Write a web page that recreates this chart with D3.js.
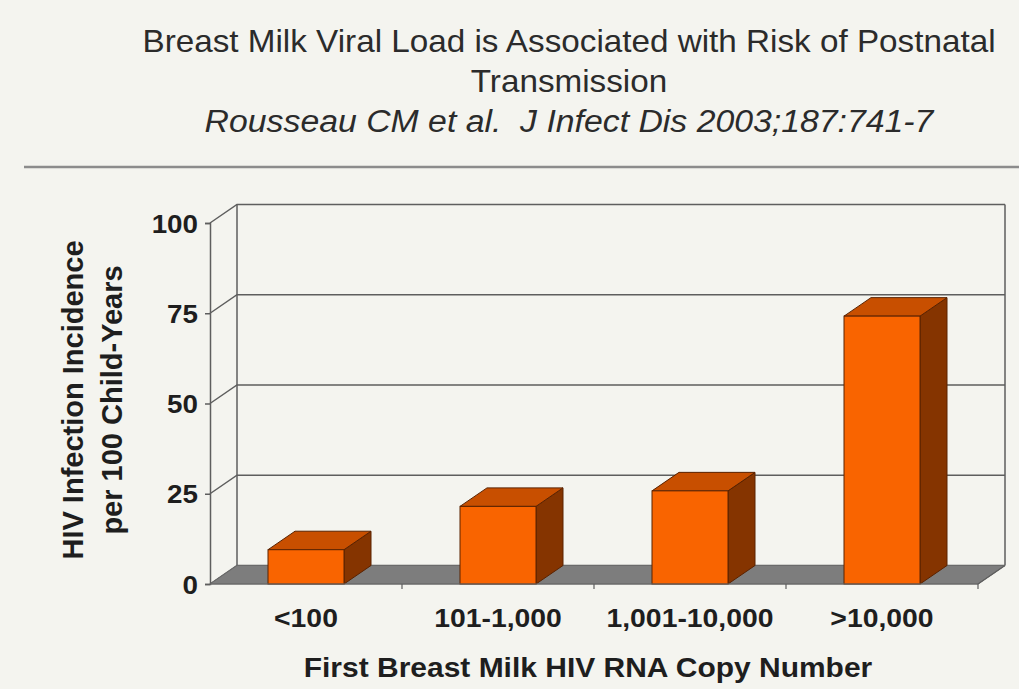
<!DOCTYPE html>
<html>
<head>
<meta charset="utf-8">
<script src="https://cdn.jsdelivr.net/npm/d3@7"></script>
<style>
  html, body { margin: 0; padding: 0; background: #F4F4EF; }
  svg { display: block; }
  text { font-family: "Liberation Sans", Arial, sans-serif; }
</style>
</head>
<body>
<svg id="chart" width="1019" height="689"></svg>
<script>
// ---- data ----
const titleLines = ["Breast Milk Viral Load is Associated with Risk of Postnatal", "Transmission"];
const citation = "Rousseau CM et al.  J Infect Dis 2003;187:741-7";
const categories = ["<100", "101-1,000", "1,001-10,000", ">10,000"];
const values = [9.5, 21.5, 25.8, 74.2];
const yTicks = [0, 25, 50, 75, 100];
const yTitle = ["HIV Infection Incidence", "per 100 Child-Years"];
const xTitle = "First Breast Milk HIV RNA Copy Number";

// ---- layout ----
const svg = d3.select("#chart");
const W = 1019, H = 689;
const stretch = 1.09;
const pLeft = 210, pRight = 978, pBottom = 584, pTop = 223;
const dx = 27, dy = -18.5;

const x = d3.scaleBand().domain(categories).range([pLeft, pRight]).paddingInner(0).paddingOuter(0);
const y = d3.scaleLinear().domain([0, 100]).range([pBottom, pTop]);
const barW = 76;

function stretchText(sel, k) {
  sel.each(function() {
    const w = this.getComputedTextLength();
    d3.select(this).attr("textLength", w * k).attr("lengthAdjust", "spacingAndGlyphs");
  });
}

// ---- title ----
const tcx = 569;
svg.append("text").attr("x", tcx).attr("y", 52).attr("text-anchor", "middle")
  .attr("font-size", 30.5).attr("fill", "#2b2b2b").text(titleLines[0]).call(stretchText, stretch);
svg.append("text").attr("x", tcx).attr("y", 92).attr("text-anchor", "middle")
  .attr("font-size", 30.5).attr("fill", "#2b2b2b").text(titleLines[1]).call(stretchText, stretch);
svg.append("text").attr("x", tcx).attr("y", 132).attr("text-anchor", "middle")
  .attr("font-size", 31).attr("font-style", "italic").attr("fill", "#2b2b2b")
  .style("white-space", "pre")
  .text(citation).call(stretchText, stretch);

// rule
svg.append("line").attr("x1", 24).attr("x2", W).attr("y1", 167).attr("y2", 167)
  .attr("stroke", "#8c8c8c").attr("stroke-width", 2.5);

const gridColor = "#5e5e5e";
const g = svg.append("g");

// back wall frame
g.append("line").attr("x1", pLeft + dx).attr("x2", pLeft + dx).attr("y1", y(100) + dy).attr("y2", y(0) + dy)
  .attr("stroke", gridColor).attr("stroke-width", 1.5);
g.append("line").attr("x1", pRight + dx).attr("x2", pRight + dx).attr("y1", y(100) + dy).attr("y2", y(0) + dy)
  .attr("stroke", gridColor).attr("stroke-width", 1.5);

// gridlines (left wall diagonal + back wall horizontal)
yTicks.forEach(t => {
  g.append("path")
    .attr("d", `M${pLeft},${y(t)} L${pLeft + dx},${y(t) + dy} L${pRight + dx},${y(t) + dy}`)
    .attr("fill", "none").attr("stroke", gridColor).attr("stroke-width", 1.5);
});

// floor
g.append("path")
  .attr("d", `M${pLeft},${y(0)} L${pRight},${y(0)} L${pRight + dx},${y(0) + dy} L${pLeft + dx},${y(0) + dy} Z`)
  .attr("fill", "#7d7d7d").attr("stroke", "#6a6a6a").attr("stroke-width", 1);

// bars
const bars = g.selectAll("g.bar").data(categories.map((c, i) => ({c, v: values[i]}))).enter()
  .append("g").attr("class", "bar");
const edge = "#5a2200";
bars.append("path") // side
  .attr("d", d => {
    const x1 = x(d.c) + (x.bandwidth() + barW) / 2;
    return `M${x1},${y(d.v)} L${x1 + dx},${y(d.v) + dy} L${x1 + dx},${y(0) + dy} L${x1},${y(0)} Z`;
  })
  .attr("fill", "#853400").attr("stroke", edge).attr("stroke-width", 1);
bars.append("path") // top
  .attr("d", d => {
    const x0 = x(d.c) + (x.bandwidth() - barW) / 2, x1 = x0 + barW;
    return `M${x0},${y(d.v)} L${x1},${y(d.v)} L${x1 + dx},${y(d.v) + dy} L${x0 + dx},${y(d.v) + dy} Z`;
  })
  .attr("fill", "#C84F00").attr("stroke", edge).attr("stroke-width", 1);
bars.append("rect") // front
  .attr("x", d => x(d.c) + (x.bandwidth() - barW) / 2)
  .attr("y", d => y(d.v))
  .attr("width", barW)
  .attr("height", d => y(0) - y(d.v))
  .attr("fill", "#F96400").attr("stroke", edge).attr("stroke-width", 1);

// y axis
const yAxis = d3.axisLeft(y).tickValues(yTicks).tickSize(5).tickPadding(7);
const ya = svg.append("g").attr("transform", `translate(${pLeft},0)`).call(yAxis);
ya.select(".domain").attr("stroke", gridColor).attr("stroke-width", 1.5);
ya.selectAll(".tick line").attr("stroke", gridColor).attr("stroke-width", 1.5);
ya.selectAll(".tick text").attr("font-size", 25.5).attr("font-weight", "bold").attr("fill", "#1e1e1e")
  .attr("font-family", "Liberation Sans, Arial, sans-serif").attr("dy", "0.36em")
  .call(stretchText, stretch);

// x axis (category separators + labels)
const xa = svg.append("g").attr("transform", `translate(0,${pBottom})`);
xa.append("line").attr("x1", pLeft).attr("x2", pRight).attr("y1", 0).attr("y2", 0)
  .attr("stroke", "#6a6a6a").attr("stroke-width", 1);
xa.selectAll("line.sep").data(categories).enter().append("line").attr("class", "sep")
  .attr("x1", d => x(d) + x.bandwidth()).attr("x2", d => x(d) + x.bandwidth())
  .attr("y1", 0).attr("y2", 5).attr("stroke", gridColor).attr("stroke-width", 1.2);
xa.append("line").attr("x1", pRight).attr("x2", pRight + dx).attr("y1", 0).attr("y2", dy)
  .attr("stroke", gridColor).attr("stroke-width", 1.2);
xa.selectAll("text.cat").data(categories).enter().append("text").attr("class", "cat")
  .attr("x", d => x(d) + x.bandwidth() / 2).attr("y", 43)
  .attr("text-anchor", "middle").attr("font-size", 26).attr("font-weight", "bold").attr("fill", "#1e1e1e")
  .text(d => d).call(stretchText, stretch);

// axis titles
svg.append("text").attr("x", 588).attr("y", 677).attr("text-anchor", "middle")
  .attr("font-size", 27.5).attr("font-weight", "bold").attr("fill", "#1e1e1e")
  .text(xTitle).call(stretchText, stretch);

const yt = svg.append("g").attr("transform", "translate(0,400)");
yt.append("text").attr("transform", "translate(83,0) rotate(-90)").attr("text-anchor", "middle")
  .attr("font-size", 29).attr("font-weight", "bold").attr("fill", "#1e1e1e").text(yTitle[0]);
yt.append("text").attr("transform", "translate(122,0) rotate(-90)").attr("text-anchor", "middle")
  .attr("font-size", 29).attr("font-weight", "bold").attr("fill", "#1e1e1e").text(yTitle[1]);
</script>
</body>
</html>
